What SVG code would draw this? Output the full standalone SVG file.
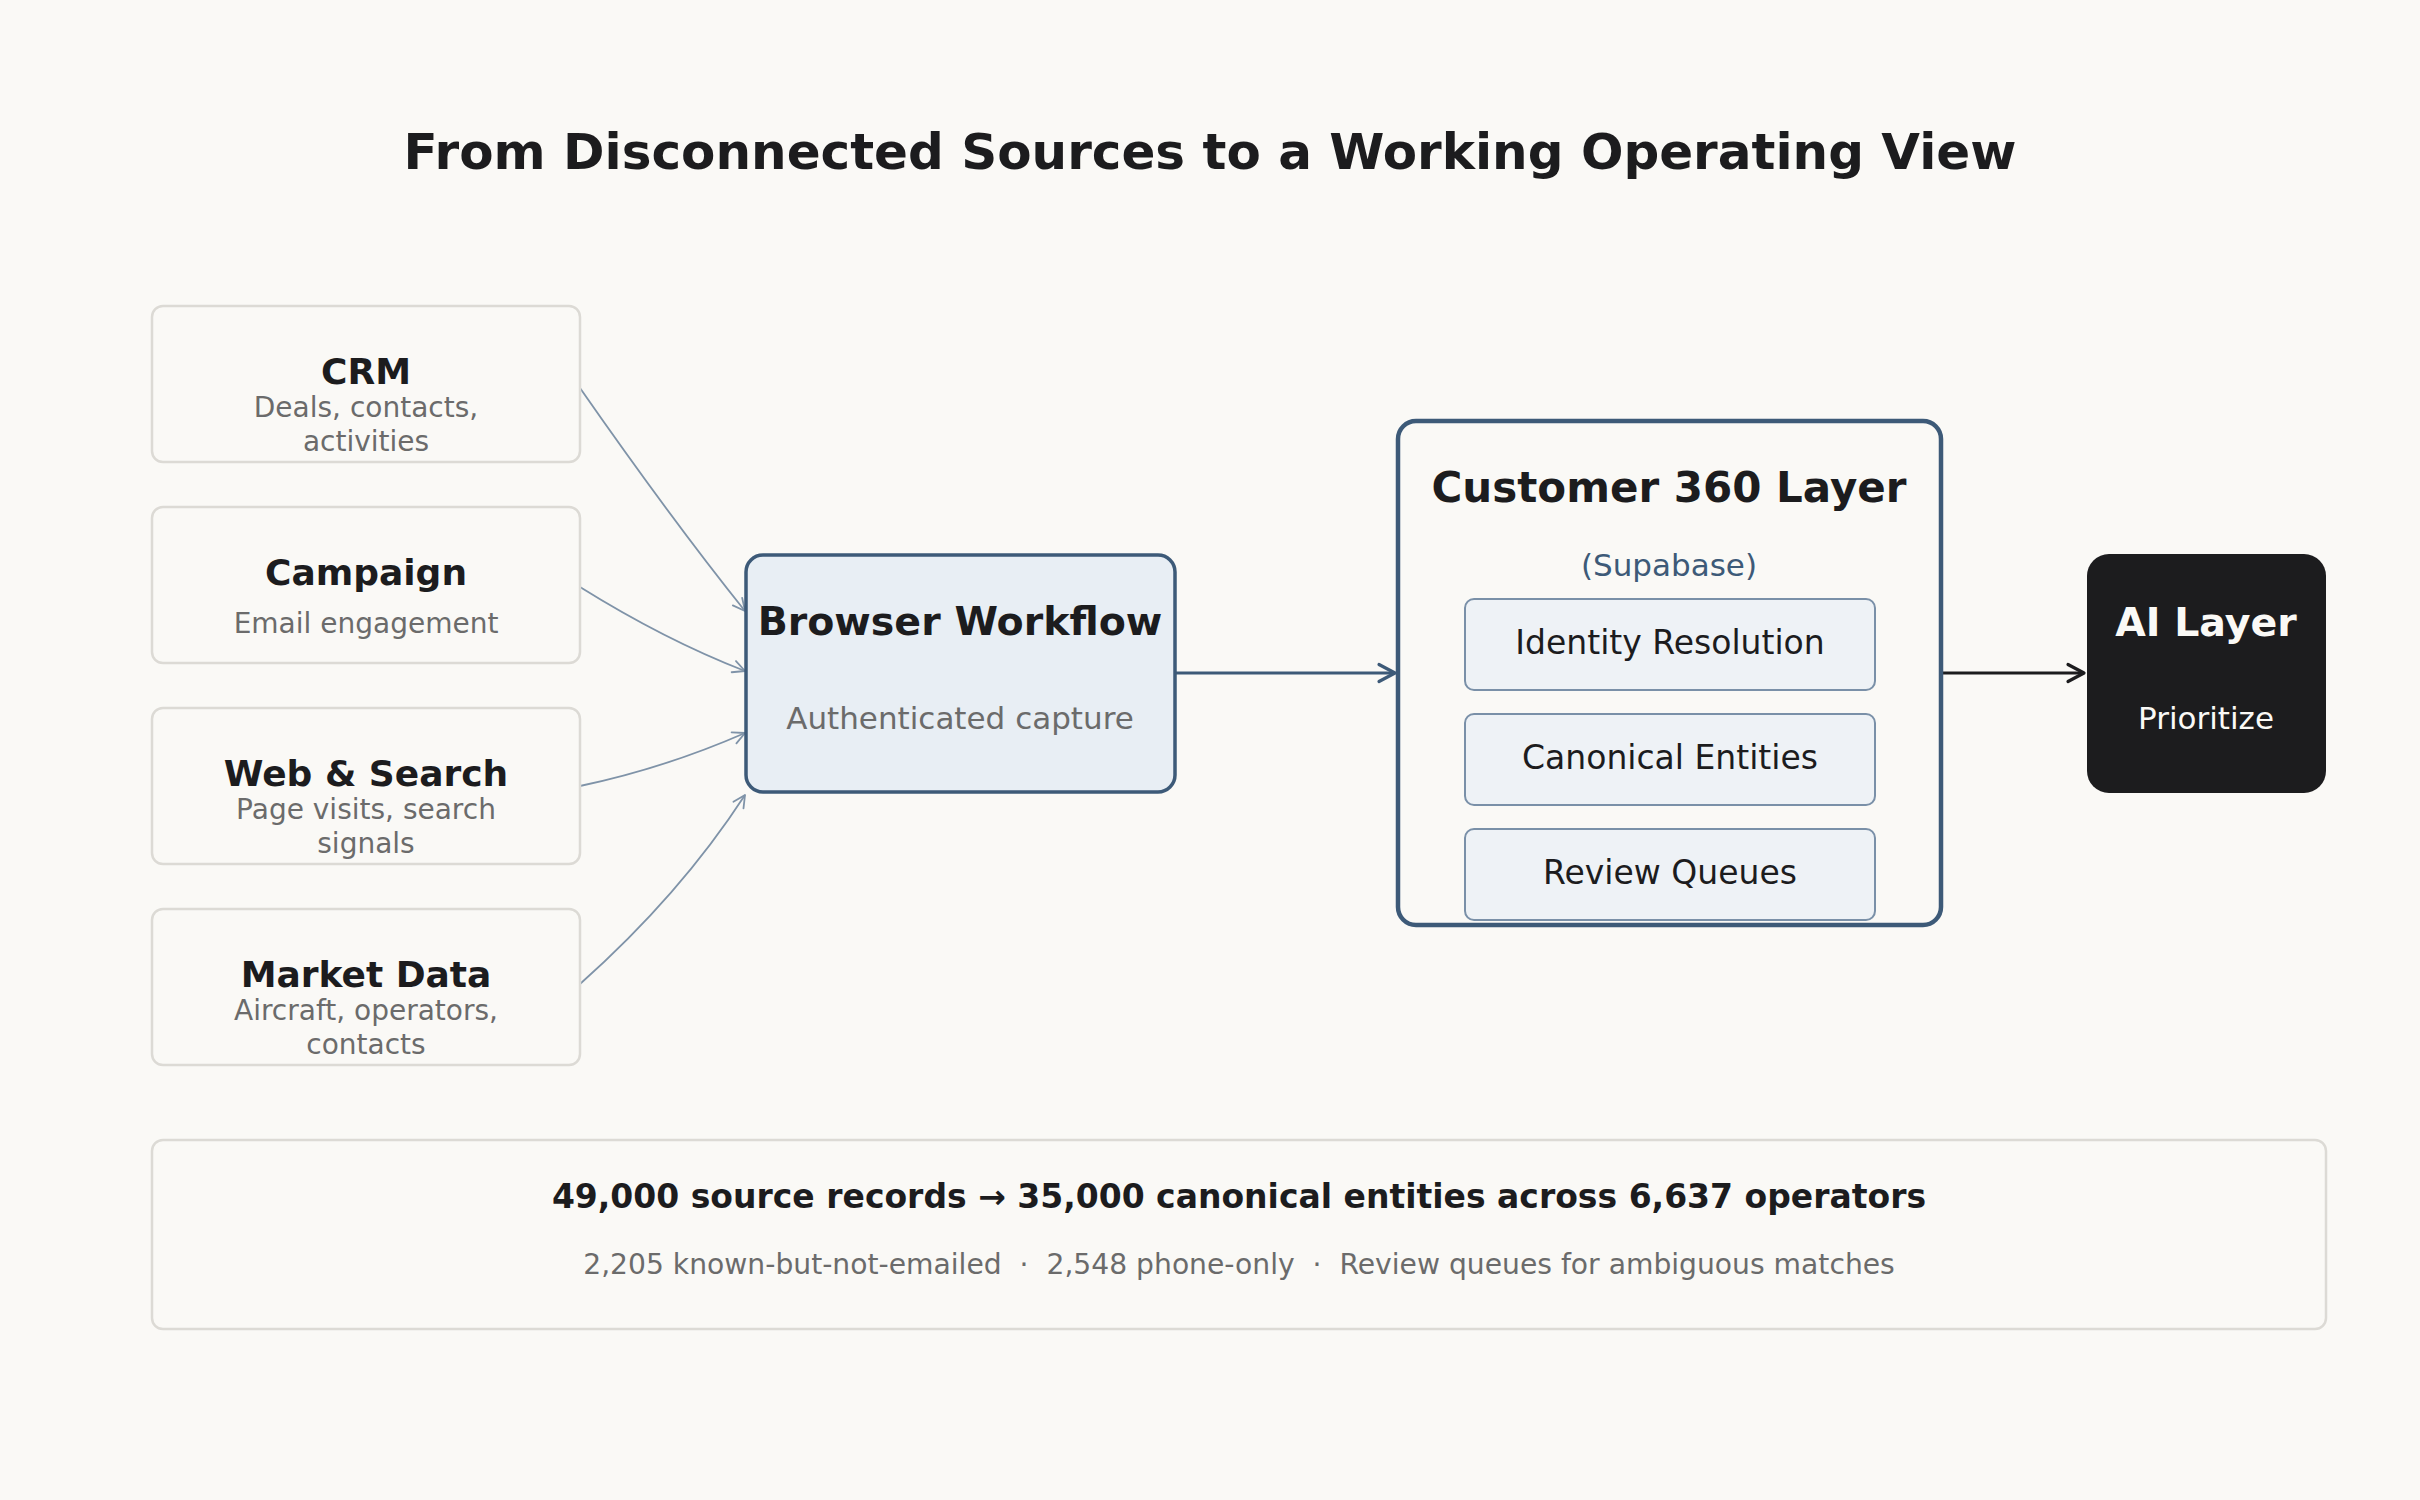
<svg xmlns="http://www.w3.org/2000/svg" width="2420" height="1500" viewBox="0 0 2420 1500">
<style>
text{font-family:"DejaVu Sans","Liberation Sans",sans-serif;text-anchor:middle}
.src{fill:#faf9f6;stroke:#dcdad5;stroke-width:2.5}
.st{font-size:36px;font-weight:bold;fill:#1c1c1e}
.ss{font-size:28px;fill:#6b6b6b}
.inner{fill:#eef2f6;stroke:#7a90a8;stroke-width:2}
.it{font-size:33px;fill:#1c1c1e}
.feed{fill:none;stroke:#7f93a8;stroke-width:1.8}
</style>
<defs>
<marker id="aSlate" markerUnits="userSpaceOnUse" markerWidth="18" markerHeight="18" viewBox="0 0 18 18" refX="15" refY="9" orient="auto">
<path d="M3,3 L15,9 L3,15" fill="none" stroke="#7f93a8" stroke-width="1.8" stroke-linecap="round" stroke-linejoin="round"/>
</marker>
<marker id="aBlue" markerUnits="userSpaceOnUse" markerWidth="24" markerHeight="24" viewBox="0 0 24 24" refX="20" refY="12" orient="auto">
<path d="M4,3.5 L20,12 L4,20.5" fill="none" stroke="#3d5a78" stroke-width="3.2" stroke-linecap="round" stroke-linejoin="round"/>
</marker>
<marker id="aDark" markerUnits="userSpaceOnUse" markerWidth="24" markerHeight="24" viewBox="0 0 24 24" refX="20" refY="12" orient="auto">
<path d="M4,3.5 L20,12 L4,20.5" fill="none" stroke="#1c1c1e" stroke-width="3.2" stroke-linecap="round" stroke-linejoin="round"/>
</marker>
</defs>
<rect width="2420" height="1500" fill="#faf9f6"/>
<text id="title" x="1210" y="169" style="font-size:50px;font-weight:bold;fill:#1c1c1e">From Disconnected Sources to a Working Operating View</text>

<g id="connectors">
<path class="feed" d="M580,388 Q672,520 745,611" marker-end="url(#aSlate)"/>
<path class="feed" d="M580,587 Q665,640 745,671" marker-end="url(#aSlate)"/>
<path class="feed" d="M580,786 Q665,768 745,733" marker-end="url(#aSlate)"/>
<path class="feed" d="M580,984 Q680,895 745,795" marker-end="url(#aSlate)"/>
<line x1="1176" y1="673" x2="1395" y2="673" stroke="#3d5a78" stroke-width="3.2" marker-end="url(#aBlue)"/>
<line x1="1943" y1="673" x2="2084" y2="673" stroke="#1c1c1e" stroke-width="3.2" marker-end="url(#aDark)"/>
</g>

<g id="crm">
<rect class="src" x="152" y="306" width="428" height="156" rx="11"/>
<text class="st" x="366" y="384">CRM</text>
<text class="ss" x="366" y="417">Deals, contacts,</text>
<text class="ss" x="366" y="451">activities</text>
</g>
<g id="campaign">
<rect class="src" x="152" y="507" width="428" height="156" rx="11"/>
<text class="st" x="366" y="585">Campaign</text>
<text class="ss" x="366" y="633">Email engagement</text>
</g>
<g id="web-search">
<rect class="src" x="152" y="708" width="428" height="156" rx="11"/>
<text class="st" x="366" y="786">Web &amp; Search</text>
<text class="ss" x="366" y="819">Page visits, search</text>
<text class="ss" x="366" y="853">signals</text>
</g>
<g id="market-data">
<rect class="src" x="152" y="909" width="428" height="156" rx="11"/>
<text class="st" x="366" y="987">Market Data</text>
<text class="ss" x="366" y="1020">Aircraft, operators,</text>
<text class="ss" x="366" y="1054">contacts</text>
</g>

<g id="browser-workflow">
<rect x="746" y="555" width="429" height="237" rx="17" fill="#e8eef4" stroke="#3d5a78" stroke-width="3.5"/>
<text x="960" y="635" style="font-size:39.5px;font-weight:bold;fill:#1c1c1e">Browser Workflow</text>
<text x="960" y="729" style="font-size:31px;fill:#6b6b6b">Authenticated capture</text>
</g>

<g id="customer-360">
<rect x="1398" y="421" width="543" height="504" rx="18" fill="#faf9f6" stroke="#3d5a78" stroke-width="4.5"/>
<text x="1669" y="502" style="font-size:42px;font-weight:bold;fill:#1c1c1e">Customer 360 Layer</text>
<text x="1669" y="576" style="font-size:31px;fill:#3d5a78">(Supabase)</text>
</g>
<g id="identity-resolution">
<rect class="inner" x="1465" y="599" width="410" height="91" rx="9"/>
<text class="it" x="1670" y="654">Identity Resolution</text>
</g>
<g id="canonical-entities">
<rect class="inner" x="1465" y="714" width="410" height="91" rx="9"/>
<text class="it" x="1670" y="769">Canonical Entities</text>
</g>
<g id="review-queues">
<rect class="inner" x="1465" y="829" width="410" height="91" rx="9"/>
<text class="it" x="1670" y="884">Review Queues</text>
</g>

<g id="ai-layer">
<rect x="2087" y="554" width="239" height="239" rx="22" fill="#1c1c1e"/>
<text x="2206" y="636" style="font-size:39.5px;font-weight:bold;fill:#faf9f6">AI Layer</text>
<text x="2206" y="729" style="font-size:31px;fill:#faf9f6">Prioritize</text>
</g>

<g id="summary">
<rect x="152" y="1140" width="2174" height="189" rx="11" fill="#faf9f6" stroke="#dcdad5" stroke-width="2.5"/>
<text x="1239" y="1208" style="font-size:33px;font-weight:bold;fill:#1c1c1e">49,000 source records → 35,000 canonical entities across 6,637 operators</text>
<text x="1239" y="1274" xml:space="preserve" style="font-size:28.2px;fill:#6b6b6b;white-space:pre">2,205 known-but-not-emailed  ·  2,548 phone-only  ·  Review queues for ambiguous matches</text>
</g>
</svg>
